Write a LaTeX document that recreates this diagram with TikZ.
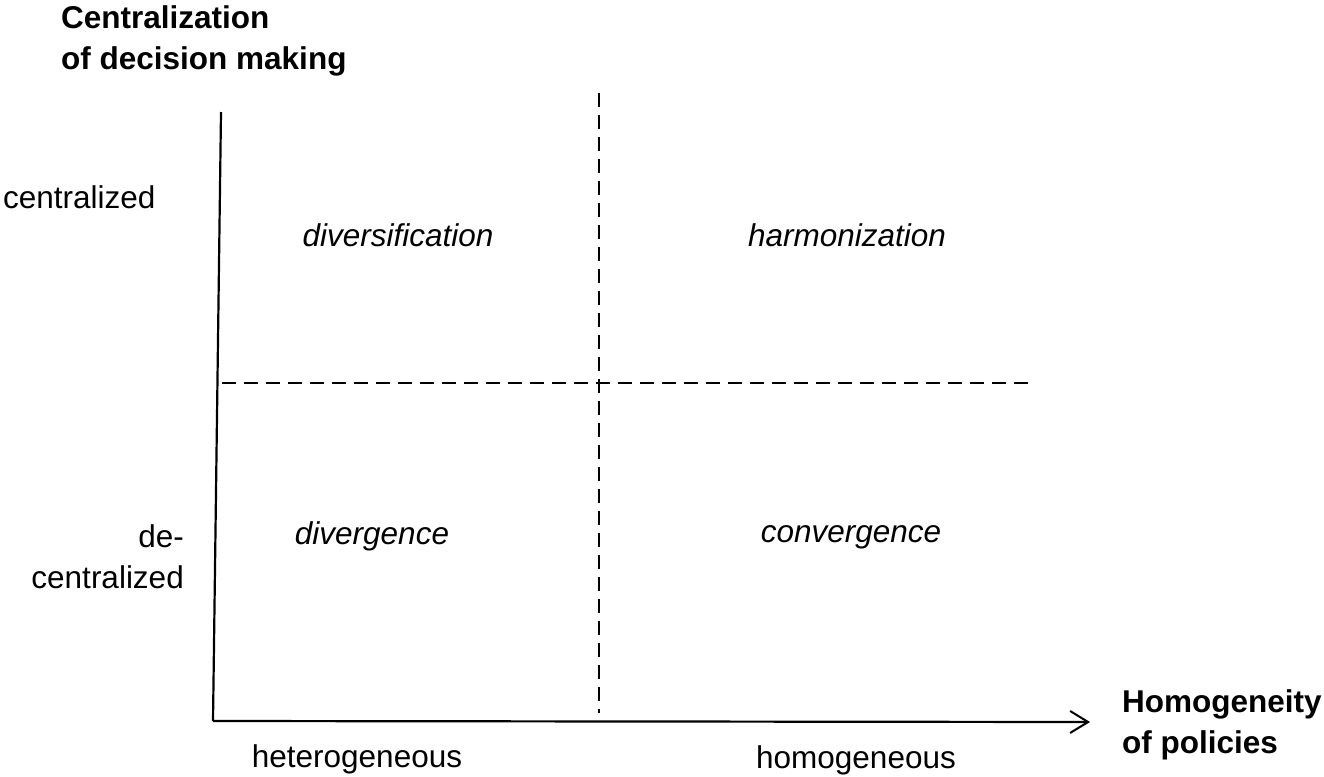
\documentclass[tikz,border=0pt]{standalone}
\usepackage{fontspec}
\setmainfont{Liberation Sans}
\usetikzlibrary{arrows.meta}
\begin{document}
\begin{tikzpicture}[x=1pt,y=-1pt,
  lbl/.style={inner sep=0pt, font=\fontsize{31.5}{41}\selectfont},
  qlbl/.style={lbl, font=\fontsize{31.5}{41}\selectfont\itshape},
  blbl/.style={lbl, font=\fontsize{31.5}{41}\selectfont\bfseries},
  axisline/.style={line width=2.2pt},
  divider/.style={line width=1.4pt, dash pattern=on 14pt off 8pt}]
\useasboundingbox[fill=white] (0,0) rectangle (1324,776);
% axes
\coordinate (origin) at (213,721);
\coordinate (ytop) at (221,112);
\coordinate (xend) at (1090,722);
\draw[axisline] (ytop) -- (origin);
\draw[axisline, -{Straight Barb[length=18pt,width=22pt,line width=2pt]}] (origin) -- (xend);
% dividers
\coordinate (vtop) at (599,93);
\coordinate (vbot) at (599,713);
\coordinate (hleft) at (222,383);
\coordinate (hright) at (1028,383);
\draw[divider] (vtop) -- (vbot);
\draw[divider] (hleft) -- (hright);
% axis titles
\node[blbl, anchor=base west] (yt1) at (61,29) {Centralization};
\node[blbl, anchor=base west] (yt2) at (61,70) {of decision making};
\node[blbl, anchor=base west] (xt1) at (1122,712) {Homogeneity};
\node[blbl, anchor=base west] (xt2) at (1122,753) {of policies};
% y labels
\node[lbl, anchor=base west] (cen) at (3,208) {centralized};
\node[lbl, anchor=base east] (dec1) at (184,547) {de-};
\node[lbl, anchor=base east] (dec2) at (184,588) {centralized};
% x labels
\node[lbl, anchor=base] (het) at (357,767) {heterogeneous};
\node[lbl, anchor=base] (hom) at (856,768) {homogeneous};
% quadrants
\node[qlbl, anchor=base] (div) at (398,246) {diversification};
\node[qlbl, anchor=base] (har) at (847,246) {harmonization};
\node[qlbl, anchor=base] (dvg) at (372,544) {divergence};
\node[qlbl, anchor=base] (cvg) at (851,542) {convergence};
\end{tikzpicture}
\end{document}
